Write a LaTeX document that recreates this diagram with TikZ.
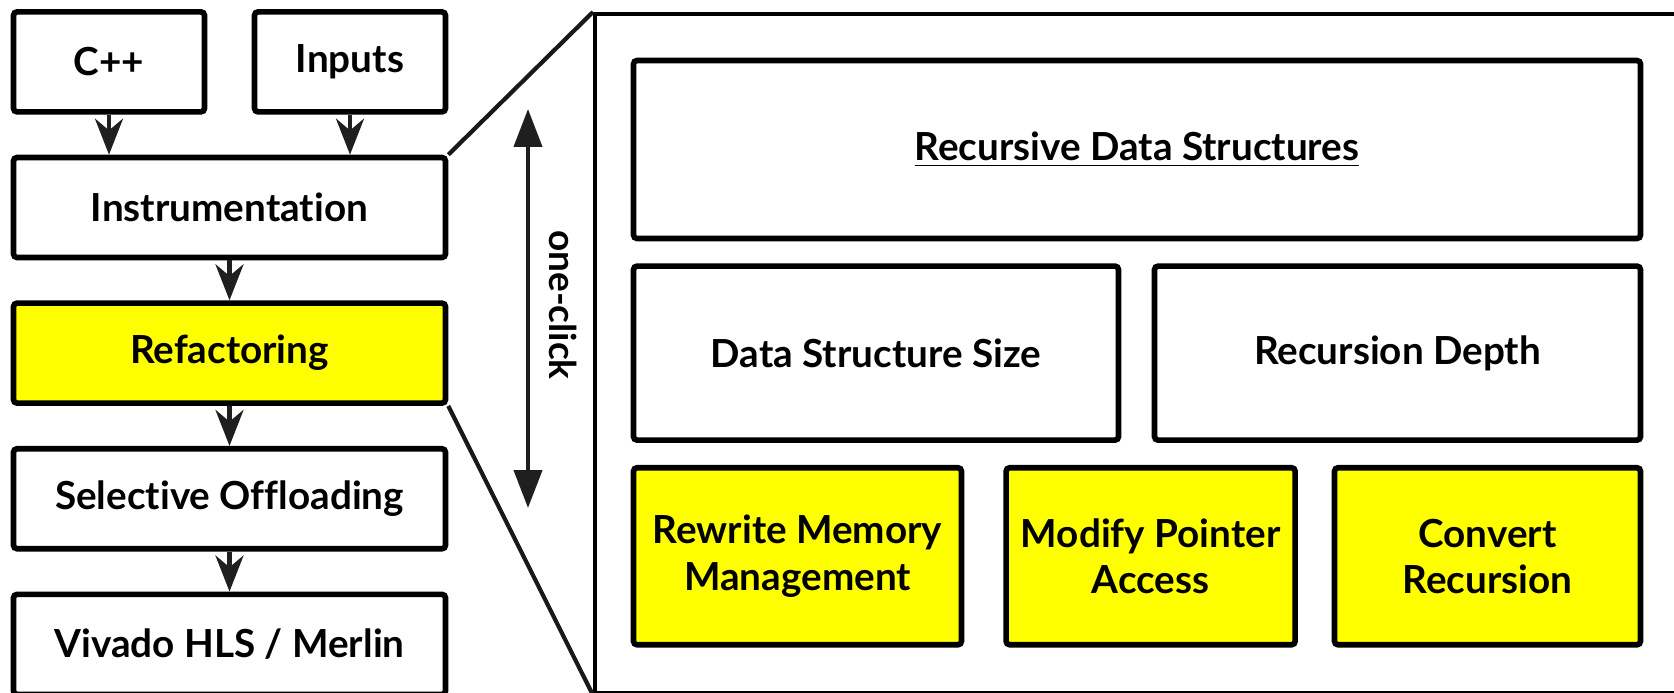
\documentclass[tikz,border=0pt]{standalone}
\usepackage{fontspec}
\setmainfont{Lato}[Ligatures=NoCommon]
\usetikzlibrary{arrows.meta, positioning}
\definecolor{hlyellow}{RGB}{255,255,0}

\begin{document}
\begin{tikzpicture}[
    node distance=0.4cm,
    every node/.style={font=\fontsize{11}{13.2}\selectfont\bfseries},
    box/.style={rectangle, rounded corners=1pt, draw=black, line width=1.6pt, fill=white, align=center, minimum height=1.0cm, inner sep=2pt},
    hlbox/.style={box, fill=hlyellow},
    arr/.style={-{Stealth[length=3.6mm, width=2.8mm]}, line width=1.3pt, black!88},
    dblarr/.style={{Triangle[length=3.8mm, width=2.8mm]}-{Triangle[length=3.8mm, width=2.8mm]}, line width=1.2pt, black!88},
    zoomline/.style={line width=1.2pt, black!90},
  ]
    \useasboundingbox (0,0) rectangle (16.74,-6.93);
    \clip (0,0) rectangle (16.74,-6.93);

    % tool flow
    \node[box, minimum width=4.32cm] (instr) at (2.295,-2.075) {Instrumentation};
    \node[box, minimum width=1.91cm, above=of instr.north west, anchor=south west] (cpp) {C++};
    \node[box, minimum width=1.91cm, above=of instr.north east, anchor=south east] (inputs) {Inputs};
    \node[hlbox, minimum width=4.32cm, below=of instr] (refac) {Refactoring};
    \node[box, minimum width=4.32cm, below=of refac] (offload) {Selective Offloading};
    \node[box, minimum width=4.32cm, below=of offload] (hls) {Vivado HLS / Merlin};
    \draw[arr] (cpp) -- (cpp |- instr.north);
    \draw[arr] (inputs) -- (inputs |- instr.north);
    \draw[arr] (instr) -- (refac);
    \draw[arr] (refac) -- (offload);
    \draw[arr] (offload) -- (hls);

    % zoomed refactoring
    \node[draw, line width=1.2pt, minimum width=11.2cm, minimum height=6.79cm, inner sep=0pt, anchor=north west] (zoom) at (5.93,-0.12) {};
    \draw[zoomline] (instr.north east) -- (zoom.north west);
    \draw[zoomline] (refac.south east) -- (zoom.south west);

    \coordinate (clicktop) at (5.28,-1.09);
    \coordinate (clickbot) at (5.28,-5.08);
    \draw[dblarr] (clicktop) -- (clickbot);
    \node[rotate=-90, font=\fontsize{10.5}{12.6}\selectfont\bfseries] (click) at (5.63,-3.05) {one-click};

    \node[box, minimum width=10.07cm, minimum height=1.78cm] (rds) at (11.37,-1.495) {\underline{Recursive Data Structures}};
    \node[box, minimum width=4.85cm, minimum height=1.74cm, below=0.22cm of rds.south west, anchor=north west] (dssize) {Data Structure Size};
    \node[box, minimum width=4.86cm, minimum height=1.74cm, below=0.22cm of rds.south east, anchor=north east] (depth) {Recursion Depth};
    \node[hlbox, minimum width=3.28cm, minimum height=1.77cm, below=0.22cm of dssize.south west, anchor=north west] (memory) {Rewrite Memory\\Management};
    \node[hlbox, minimum width=2.89cm, minimum height=1.77cm, right=0.39cm of memory.north east, anchor=north west] (pointer) {Modify Pointer\\Access};
    \node[hlbox, minimum width=3.06cm, minimum height=1.77cm, below=0.22cm of depth.south east, anchor=north east] (convert) {Convert\\Recursion};
  \end{tikzpicture}
\end{document}
